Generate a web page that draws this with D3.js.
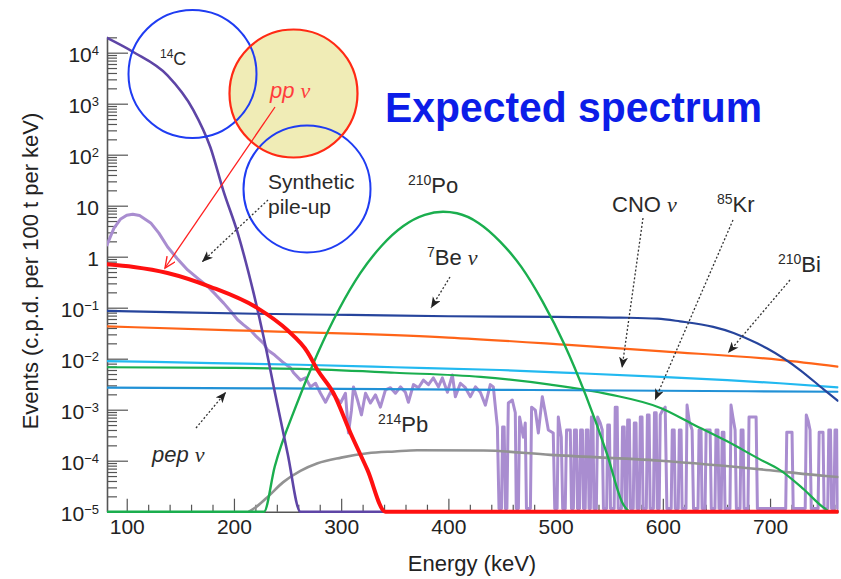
<!DOCTYPE html>
<html>
<head>
<meta charset="utf-8">
<script src="https://cdn.jsdelivr.net/npm/d3@7"></script>
<style>
  html, body { margin: 0; padding: 0; background: #fff; }
  svg { display: block; }
  text { font-family: "Liberation Sans", Arial, Helvetica, sans-serif; }
</style>
</head>
<body>
<svg id="chart" width="841" height="579"></svg>
<script>
// Energy in keV, rate in c.p.d. per 100 t per keV. 1e-5 is the plotting floor.
const carbon14 = [[81.6,1.95e4],[106.5,1.02e4],[138,3.6e3],[162,7.6e2],[178,1.4e2],[190,20],[203.4,2.95],[218.3,0.195],[227.6,0.027],[239,1.8e-3],[250,1.4e-4],[262,1e-5],[763,1e-5]];

const ppNu = [[81.6,0.71],[106.5,0.63],[138,0.48],[178,0.257],[222,0.098],[250,0.036],[268.6,0.0135],[278,6.0e-3],[292.9,2.1e-3],[308.7,3.5e-4],[324.5,6.6e-5],[341.3,1e-5],[763,1e-5]];

const polonium210 = [[81.6,1e-5],[228,1e-5],[238,7.6e-5],[258,1.2e-3],[278,0.0126],[298,0.093],[318,0.48],[338,1.66],[358,4.0],[378,6.6],[395,7.6],[408,7.1],[428,4.6],[448,2.0],[468,0.63],[488,0.13],[508,0.0195],[528,1.95e-3],[548,1.35e-4],[563,1.4e-5],[570,1e-5],[763,1e-5]];

const beryllium7Nu = [[81.6,0.087],[150,0.081],[220,0.076],[308,0.072],[400,0.068],[500,0.066],[560,0.064],[595,0.061],[616,0.054],[647,0.042],[666,0.032],[688,0.020],[697,0.016],[728,6.0e-3],[750,2.5e-3],[763,1.5e-3]];

const bismuth210 = [[81.6,0.043],[200,0.036],[308,0.031],[400,0.026],[512,0.0186],[600,0.0139],[709,9.5e-3],[763,7.0e-3]];

const cnoNu = [[81.6,9.0e-3],[180,8.2e-3],[262,7.6e-3],[350,6.8e-3],[448,6.0e-3],[520,5.2e-3],[598,4.4e-3],[660,3.8e-3],[709,3.3e-3],[763,2.75e-3]];

const pepNu = [[81.6,2.7e-3],[300,2.57e-3],[450,2.45e-3],[600,2.35e-3],[763,2.25e-3]];

const krypton85 = [[81.6,6.8e-3],[200,6.6e-3],[262,6.3e-3],[350,5.3e-3],[430,4.4e-3],[495,3.1e-3],[550,2.0e-3],[598.5,1.07e-3],[628,5.2e-4],[660,2.4e-4],[691,1.05e-4],[709,6.6e-5],[731,2.8e-5],[750,1.2e-5],[756,1e-5],[763,1e-5]];

const lead214 = [[214,1e-5],[222,1.3e-5],[232,2.0e-5],[246,3.8e-5],[262,6.3e-5],[278,8.9e-5],[300,1.15e-4],[324.5,1.4e-4],[350,1.52e-4],[371,1.6e-4],[433,1.58e-4],[495,1.3e-4],[598,1.0e-4],[700,6.5e-5],[752,5.0e-5],[763,4.8e-5]];

const pileUp = [
  [81.6,1.7],[88,3.6],[94,5.4],[100,6.5],[105.6,6.8],[112,6.4],[122.4,4.6],[130,2.9],[138.2,1.55],[147,0.92],
  [156.8,0.55],[166,0.38],[175.5,0.26],[183,0.18],[190.4,0.123],[197,0.085],[203.4,0.058],[209,0.046],[215.5,0.036],
  [221,0.027],[227.6,0.020],[231.4,0.0148],[238,0.0118],[246.3,8.3e-3],[252.8,6.6e-3],[255.6,5.3e-3],
  [262.1,3.8e-3],[266.8,4.2e-3],[271.4,2.8e-3],[276.1,3.3e-3],[280.7,2.1e-3],[285.4,1.4e-3],[290.1,2.2e-3],
  [294.7,1.8e-3],[299.4,1.35e-3],[304.0,2.1e-3],[306.8,3.5e-4],[309.6,9.8e-4],[311.5,2.8e-3],[315.2,1.55e-3],
  [318.9,7.9e-4],[322.7,2.1e-3],[327.3,1.35e-3],[332.0,1.95e-3],[336.6,1.12e-3],[341.3,2.45e-3],[346.0,2.7e-3],
  [350.6,2.1e-3],[355.3,2.8e-3],[359.9,2.2e-3],[362.7,1.4e-3],[367.4,3.1e-3],[372.1,2.7e-3],[376.7,3.8e-3],
  [381.4,3.1e-3],[386.0,4.2e-3],[390.7,2.8e-3],[394.4,4.2e-3],[399.1,2.2e-3],[403.7,4.8e-3],[406.5,1.8e-3],
  [411.2,3.3e-3],[415.8,2.7e-3],[420.5,1.8e-3],[425.2,2.8e-3],[429.8,2.2e-3],[434.5,1.23e-3],[439.1,3.1e-3],
  [441.9,2.8e-3],[445.7,4.6e-4],
  [447.2,1.15e-5],[449.5,1.15e-5],[450.6,4.6e-4],[452.0,4.6e-4],[453.2,1.15e-5],[454.6,1.15e-5],[455.9,1.35e-3],
  [459.6,1.55e-3],[462.4,8.7e-4],[463.3,1.15e-5],[465.3,1.15e-5],[466.4,7.2e-4],[469.9,2.9e-4],[471.7,5.5e-4],
  [472.8,1.15e-5],[476.5,1.15e-5],[477.6,1.12e-3],[481.1,9.8e-4],[483.9,3.5e-4],[487.6,1.8e-3],[490.4,8.7e-4],
  [493.2,4.0e-4],[497.8,3.5e-4],[499.2,1.15e-5],[501.4,1.15e-5],[502.5,7.2e-4],[505.3,2.9e-4],[506.6,1.15e-5],
  [509.0,1.15e-5],[510.2,4.0e-4],[513.7,4.0e-4],[514.8,1.15e-5],[516.6,1.15e-5],[517.6,4.0e-4],[519.4,4.0e-4],
  [520.4,1.15e-5],[522.3,1.15e-5],[523.3,4.0e-4],[525.0,4.0e-4],[526.0,1.15e-5],[527.6,1.15e-5],[528.6,4.0e-4],
  [530.2,4.0e-4],[531.2,1.15e-5],[532.4,1.15e-5],[533.4,7.2e-4],[534.8,7.2e-4],[535.8,1.15e-5],[538.0,1.15e-5],
  [539.2,7.2e-4],[541.6,5.5e-4],[543.5,4.0e-4],[544.6,1.15e-5],[547.6,1.15e-5],[548.6,5.0e-4],[550.2,5.0e-4],
  [551.2,1.15e-5],[554.6,1.15e-5],[555.6,1.12e-3],[557.4,1.12e-3],[558.4,1.15e-5],[561.4,1.15e-5],[562.4,4.6e-4],
  [564.0,4.6e-4],[565.0,1.15e-5],[566.2,1.15e-5],[567.2,6.3e-4],[568.8,6.3e-4],[569.8,1.15e-5],[572.4,1.15e-5],
  [573.4,5.5e-4],[575.0,5.5e-4],[576.0,1.15e-5],[578.0,1.15e-5],[579.0,7.2e-4],[580.6,7.2e-4],[581.6,1.15e-5],
  [584.6,1.15e-5],[585.6,7.9e-4],[587.2,7.9e-4],[588.2,1.15e-5],[591.2,1.15e-5],[592.2,8.7e-4],[593.8,8.7e-4],
  [594.8,1.15e-5],[596.6,1.15e-5],[597.6,7.9e-4],[600.0,1.0e-3],[602.2,1.12e-3],[603.8,1.15e-5],[607.8,1.15e-5],
  [608.8,4.0e-4],[610.6,4.0e-4],[611.6,1.15e-5],[614.4,1.15e-5],[615.4,4.0e-4],[617.0,4.0e-4],[618.0,1.15e-5],
  [621.6,1.15e-5],[622.6,1.23e-3],[624.6,6.0e-4],[627.3,4.0e-4],[628.6,1.15e-5],[632.8,1.15e-5],[633.8,4.0e-4],
  [635.6,4.0e-4],[636.6,1.15e-5],[639.4,1.15e-5],[640.4,4.0e-4],[644.1,4.0e-4],[645.2,1.15e-5],[648.6,1.15e-5],
  [649.6,4.0e-4],[651.4,4.0e-4],[652.4,1.15e-5],[654.4,1.15e-5],[655.4,3.6e-4],[657.0,3.6e-4],[658.0,1.15e-5],
  [662.6,1.15e-5],[663.6,1.23e-3],[665.4,7.0e-4],[667.4,4.0e-4],[668.6,1.15e-5],[672.0,1.15e-5],[673.0,4.0e-4],
  [674.8,4.0e-4],[675.8,1.15e-5],[679.4,1.15e-5],[680.4,7.2e-4],[687.0,7.2e-4],[688.2,1.15e-5],[714.6,1.15e-5],
  [715.6,3.6e-4],[720.5,3.6e-4],[721.6,1.15e-5],[732.8,1.15e-5],[733.8,7.9e-4],[735.6,6.0e-4],[737.3,4.0e-4],
  [738.4,1.15e-5],[744.8,1.15e-5],[745.8,3.6e-4],[749.4,3.6e-4],[750.4,1.15e-5],[753.8,1.15e-5],[754.8,4.0e-4],
  [756.4,4.0e-4],[757.4,1.15e-5],[759.6,1.15e-5],[760.6,4.0e-4],[762.2,4.0e-4],[763,1.15e-5]
];

// Axis ticks
const xMajorTicks = [100, 200, 300, 400, 500, 600, 700];
const xMinorTicks = [120,140,160,180,220,240,260,280,320,340,360,380,420,440,460,480,520,540,560,580,620,640,660,680,720,740,760];
const yMajorTicks = [1e-5, 1e-4, 1e-3, 1e-2, 1e-1, 1, 10, 100, 1e3, 1e4];
const yMinorTicks = [];
for (let e = -5; e <= 4; e++) for (let m = 2; m <= 9; m++) { const v = m * Math.pow(10, e); if (v <= 2.03e4) yMinorTicks.push(v); }

const svg = d3.select("#chart");
svg.append("rect").attr("width", 841).attr("height", 579).attr("fill", "#fff");

const x = d3.scaleLinear().domain([81.6, 763]).range([107, 837.6]);
const y = d3.scaleLog().domain([1e-5, 2.03e4]).range([511.7, 37]);

const axisColor = "#555";

// x axis: ticks pointing into the plot
const gxMinor = svg.append("g").attr("transform", `translate(0,${y(1e-5)})`)
  .call(d3.axisBottom(x).tickValues(xMinorTicks).tickSizeInner(-7).tickSizeOuter(0).tickFormat(""));
const gx = svg.append("g").attr("transform", `translate(0,${y(1e-5)})`)
  .call(d3.axisBottom(x).tickValues(xMajorTicks).tickSizeInner(-13).tickSizeOuter(0).tickPadding(7).tickFormat(d3.format("d")));

// y axis: ticks pointing into the plot
const gyMinor = svg.append("g").attr("transform", `translate(${x(81.6)},0)`)
  .call(d3.axisLeft(y).tickValues(yMinorTicks).tickSizeInner(-10).tickSizeOuter(0).tickFormat(""));
const gy = svg.append("g").attr("transform", `translate(${x(81.6)},0)`)
  .call(d3.axisLeft(y).tickValues(yMajorTicks).tickSizeInner(-21).tickSizeOuter(0).tickPadding(8));

[gx, gxMinor, gy, gyMinor].forEach(g => {
  g.select(".domain").attr("stroke", axisColor).attr("stroke-width", 1.6);
  g.selectAll(".tick line").attr("stroke", axisColor).attr("stroke-width", 1.2);
});
gxMinor.select(".domain").remove();
gyMinor.select(".domain").remove();

gx.selectAll(".tick text")
  .attr("font-family", '"Liberation Sans", Arial, sans-serif')
  .attr("font-size", 21).attr("fill", "#222");

gy.selectAll(".tick text").each(function (d) {
  const e = Math.round(Math.log10(d));
  const t = d3.select(this).text("")
    .attr("font-family", '"Liberation Sans", Arial, sans-serif')
    .attr("font-size", 21).attr("fill", "#222").attr("dy", "0.4em");
  if (e === 0) t.text("1");
  else if (e === 1) t.text("10");
  else {
    t.append("tspan").text("10");
    t.append("tspan").attr("font-size", 13).attr("dy", -7).text(e < 0 ? "\u2212" + (-e) : String(e));
  }
});

// axis titles
svg.append("text")
  .attr("transform", "translate(38,271) rotate(-90)")
  .attr("text-anchor", "middle").attr("font-size", 22).attr("fill", "#222")
  .text("Events (c.p.d. per 100 t per keV)");
svg.append("text")
  .attr("x", 472).attr("y", 571)
  .attr("text-anchor", "middle").attr("font-size", 22).attr("fill", "#222")
  .text("Energy (keV)");

// spectra
svg.append("clipPath").attr("id", "plotClip")
  .append("rect").attr("x", x(81.6)).attr("y", 30).attr("width", x(763) - x(81.6) + 1).attr("height", 490);

const plot = svg.append("g").attr("clip-path", "url(#plotClip)");
const smooth = d3.line().x(d => x(d[0])).y(d => y(d[1])).curve(d3.curveMonotoneX);
const jagged = d3.line().x(d => x(d[0])).y(d => y(d[1]));

const series = [
  { data: pileUp,       color: "#a98dd0", width: 3,   line: jagged },
  { data: lead214,      color: "#929292", width: 2.6, line: smooth },
  { data: krypton85,    color: "#1aae4e", width: 2.2, line: smooth },
  { data: cnoNu,        color: "#22b9f0", width: 2.2, line: smooth },
  { data: pepNu,        color: "#2191d6", width: 2.2, line: smooth },
  { data: bismuth210,   color: "#ff6418", width: 2.2, line: smooth },
  { data: beryllium7Nu, color: "#26449c", width: 2.2, line: smooth },
  { data: polonium210,  color: "#1aae4e", width: 2.4, line: smooth },
  { data: carbon14,     color: "#5e45a6", width: 2.6, line: smooth },
  { data: ppNu,         color: "#ff1010", width: 4,   line: smooth }
];
series.forEach(s => {
  plot.append("path").attr("d", s.line(s.data))
    .attr("fill", "none").attr("stroke", s.color).attr("stroke-width", s.width)
    .attr("stroke-linejoin", "round").attr("stroke-linecap", "round");
});

// annotation layer
const defs = svg.append("defs");
defs.append("marker").attr("id", "headBlack")
  .attr("markerUnits", "userSpaceOnUse").attr("markerWidth", 12).attr("markerHeight", 10)
  .attr("refX", 11).attr("refY", 4.5).attr("orient", "auto")
  .append("path").attr("d", "M0,0 L11,4.5 L0,9 L3,4.5 Z").attr("fill", "#222");
defs.append("marker").attr("id", "headRed")
  .attr("markerUnits", "userSpaceOnUse").attr("markerWidth", 14).attr("markerHeight", 14)
  .attr("refX", 11).attr("refY", 5).attr("orient", "auto")
  .append("path").attr("d", "M0,0 L11,5 L0,10").attr("fill", "none").attr("stroke", "#ff2020").attr("stroke-width", 1.4);

const notes = svg.append("g");
// highlighted pp circle fill sits under the outlines
notes.append("circle").attr("cx", 293.5).attr("cy", 93.5).attr("r", 64).attr("fill", "#f0ecb6");
notes.append("circle").attr("cx", 192.5).attr("cy", 74).attr("r", 64).attr("fill", "none").attr("stroke", "#1f3cf2").attr("stroke-width", 2);
notes.append("circle").attr("cx", 307).attr("cy", 189).attr("r", 63.5).attr("fill", "none").attr("stroke", "#1f3cf2").attr("stroke-width", 2);
notes.append("circle").attr("cx", 293.5).attr("cy", 93.5).attr("r", 64).attr("fill", "none").attr("stroke", "#ff2a14").attr("stroke-width", 2.2);

notes.append("line").attr("x1", 275).attr("y1", 107).attr("x2", 165).attr("y2", 268)
  .attr("stroke", "#ff2020").attr("stroke-width", 1.3).attr("marker-end", "url(#headRed)");

const dotted = [
  [268, 200, 202, 262],
  [450, 277, 431, 308],
  [643, 218, 622, 368],
  [733, 220, 655, 400],
  [790, 280, 728, 353],
  [196, 428, 226, 392]
];
dotted.forEach(a => {
  notes.append("line").attr("x1", a[0]).attr("y1", a[1]).attr("x2", a[2]).attr("y2", a[3])
    .attr("stroke", "#333").attr("stroke-width", 1.3).attr("stroke-dasharray", "2,2")
    .attr("marker-end", "url(#headBlack)");
});

function label(px, py, parts, opts = {}) {
  const t = notes.append("text").attr("x", px).attr("y", py)
    .attr("font-size", opts.size || 22).attr("fill", opts.color || "#2a2a2a");
  if (opts.italic) t.attr("font-style", "italic");
  parts.forEach(p => {
    const s = t.append("tspan").text(p.t);
    if (p.sup) s.attr("font-size", p.size || 14).attr("baseline-shift", "super");
    if (p.nu) s.attr("font-family", '"Liberation Serif", "Times New Roman", serif').attr("font-style", "italic");
  });
  return t;
}

label(160, 65, [{ t: "14", sup: true, size: 12 }, { t: "C" }], { size: 18 });
label(270, 98, [{ t: "pp " }, { t: "\u03bd", nu: true }], { italic: true, color: "#ff3c3c", size: 22 });
label(268, 189, [{ t: "Synthetic" }], { size: 21 });
label(268, 214, [{ t: "pile-up" }], { size: 21 });
label(408, 193, [{ t: "210", sup: true }, { t: "Po" }]);
label(427, 265, [{ t: "7", sup: true }, { t: "Be " }, { t: "\u03bd", nu: true }]);
label(612, 212, [{ t: "CNO " }, { t: "\u03bd", nu: true }]);
label(717, 212, [{ t: "85", sup: true }, { t: "Kr" }]);
label(778, 272, [{ t: "210", sup: true }, { t: "Bi" }]);
label(378, 432, [{ t: "214", sup: true }, { t: "Pb" }]);
label(152, 462, [{ t: "pep " }, { t: "\u03bd", nu: true }], { italic: true });

// title
svg.append("text").attr("x", 385).attr("y", 122)
  .attr("font-family", "Lato, 'Open Sans', sans-serif").attr("font-weight", 700)
  .attr("font-size", 42).attr("fill", "#0c1de8")
  .attr("textLength", 377).attr("lengthAdjust", "spacingAndGlyphs")
  .text("Expected spectrum");
</script>
</body>
</html>
